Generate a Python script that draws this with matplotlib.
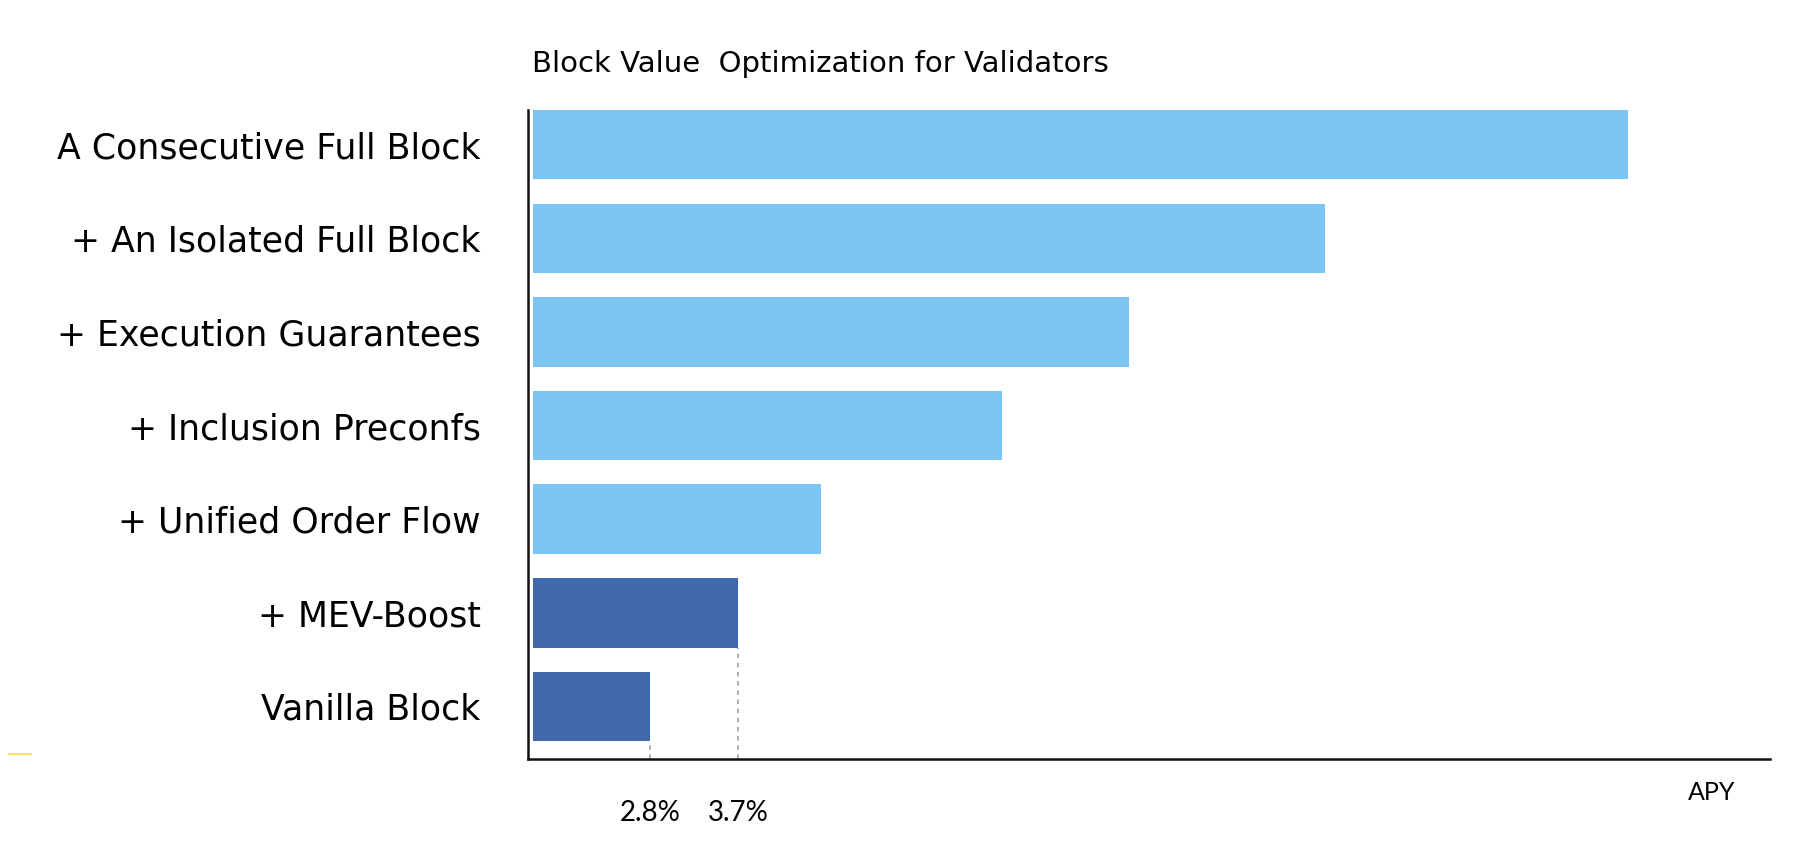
import matplotlib
matplotlib.use("Agg")
import matplotlib.pyplot as plt
from matplotlib.lines import Line2D

# ---- data ----
categories = ["Vanilla Block", "+ MEV-Boost", "+ Unified Order Flow",
              "+ Inclusion Preconfs", "+ Execution Guarantees",
              "+ An Isolated Full Block", "A Consecutive Full Block"]
apy_values = [2.8, 3.7, 4.55, 6.4, 7.7, 9.7, 12.8]
bar_colors = ["#4268AC", "#4268AC", "#7BC5F3", "#7BC5F3", "#7BC5F3", "#7BC5F3", "#7BC5F3"]
tick_values = [2.8, 3.7]
tick_labels = ["2.8%", "3.7%"]
base_value = 1.6
title = "Block Value  Optimization for Validators"
x_label = "APY"

plt.rcParams['font.family'] = ['Lato', 'DejaVu Sans']

W, H = 1816, 858
fig = plt.figure(figsize=(W / 100, H / 100), dpi=100)
ax = fig.add_axes([528 / W, 1 - 758.6 / H, (1770 - 528) / W, (758.6 - 110) / H])

ypos = list(range(len(categories)))
widths = [v - base_value for v in apy_values]
bar_h = 0.742
ax.barh(ypos, widths, left=base_value, height=bar_h, color=bar_colors, edgecolor='none', zorder=2)

ax.set_xlim(1.55, 14.25)
ax.set_ylim(-0.557, len(categories) - 1 + bar_h / 2)

# dashed guides from the two baseline bars down to the axis
for i, v in enumerate(apy_values):
    if v in tick_values:
        ax.plot([v, v], [ax.get_ylim()[0], ypos[i] - bar_h / 2], ls=(0, (3, 3)),
                color='#9a9a9a', lw=1.1, zorder=1)

for s in ['top', 'right']:
    ax.spines[s].set_visible(False)
for s in ['left', 'bottom']:
    ax.spines[s].set_linewidth(1.8)
    ax.spines[s].set_color('#111111')

ax.set_yticks(ypos)
ax.set_yticklabels(categories, fontsize=25, family=['DejaVu Sans'])
ax.set_xticks(tick_values)
ax.set_xticklabels(tick_labels, fontsize=20)
ax.tick_params(axis='y', length=0, pad=34)
ax.tick_params(axis='x', length=0, pad=30)

fig.text(532 / W, 1 - 64 / H, title, ha='left', va='center', fontsize=21,
         family=['DejaVu Sans'])
fig.text(1712 / W, 1 - 793 / H, x_label, ha='center', va='center', fontsize=18)

# small yellow mark at the far left
fig.add_artist(Line2D([9 / W, 31 / W], [1 - 754 / H, 1 - 754 / H], color='#F8E45C', lw=1.5))

fig.savefig("out.png", dpi=100)
